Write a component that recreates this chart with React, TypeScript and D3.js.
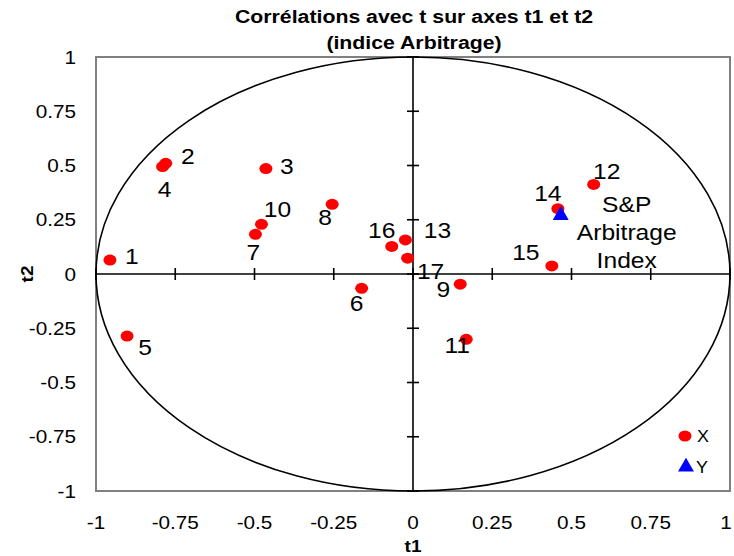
import React from 'react';
import * as d3 from 'd3';

// variables X (points 1..17) : correlations with t1 / t2
const varLabels = ['1', '2', '3', '4', '5', '6', '7', '8', '9', '10', '11', '12', '13', '14', '15', '16', '17'];
const t1Values = [-0.956, -0.78, -0.464, -0.79, -0.902, -0.162, -0.497, -0.255, 0.149, -0.478, 0.168, 0.57, -0.024, 0.457, 0.438, -0.067, -0.017];
const t2Values = [0.064, 0.51, 0.486, 0.495, -0.286, -0.066, 0.183, 0.321, -0.047, 0.229, -0.301, 0.413, 0.157, 0.301, 0.037, 0.127, 0.073];

// variable Y
const yLabelLines = ['S&P', 'Arbitrage', 'Index'];
const yT1 = [0.466];
const yT2 = [0.275];

const tickValues = [-1, -0.75, -0.5, -0.25, 0, 0.25, 0.5, 0.75, 1];
const titleLines = ['Corrélations avec t sur axes t1 et t2', '(indice Arbitrage)'];

// label offsets (px) from each point, hand placed like the original
const labelOffsets: [number, number][] = [
  [22, -4], [22, -7], [21, -2], [2, 23], [18, 11], [-5, 15], [-2, 18], [-7, 13], [-17, 5],
  [16, -15], [-9, 6], [13, -13], [32, -9], [-10, -15], [-26, -14], [-10, -16], [23, 13],
];

const W = 734;
const H = 556;
const font = 'Liberation Sans, Arial, sans-serif';
const SX = 1.12; // the original text is a bit wider than plain Arial

type TxtProps = {
  x: number; y: number; size: number; anchor?: string; bold?: boolean; rotate?: number; children: React.ReactNode;
};

// text drawn with a slight horizontal stretch
const Txt = ({ x, y, size, anchor = 'middle', bold, rotate = 0, children }: TxtProps) => (
  <text transform={`translate(${x},${y}) rotate(${rotate}) scale(${SX},1)`} textAnchor={anchor}
    dominantBaseline="central" fontFamily={font} fontWeight={bold ? 'bold' : 'normal'} fontSize={size}>
    {children}
  </text>
);

const App: React.FC = () => {
  const x = d3.scaleLinear().domain([-1, 1]).range([96, 730]);
  const y = d3.scaleLinear().domain([-1, 1]).range([491, 57]);
  const tk = 6;

  const tri = d3.symbol().type(d3.symbolTriangle).size(110)() || '';
  const fmt = (v: number) => String(v);

  return (
    <svg width={W} height={H} style={{ position: 'absolute', left: 0, top: 0, background: '#fff' }}>
      {titleLines.map((t, i) => (
        <Txt key={t} x={414} y={16 + i * 26} size={19} bold>{t}</Txt>
      ))}

      <rect x={x(-1)} y={y(1)} width={x(1) - x(-1)} height={y(-1) - y(1)} fill="#fff" stroke="#808080" strokeWidth={2} />

      {/* correlation circle */}
      <ellipse cx={x(0)} cy={y(0)} rx={x(1) - x(0)} ry={y(0) - y(1)} fill="none" stroke="#000" strokeWidth={1.6} />

      {/* axes through origin */}
      <line x1={x(-1)} x2={x(1)} y1={y(0)} y2={y(0)} stroke="#000" strokeWidth={1.6} />
      <line x1={x(0)} x2={x(0)} y1={y(-1)} y2={y(1)} stroke="#000" strokeWidth={1.6} />
      {tickValues.map(v => (
        <g key={'t' + v} stroke="#000" strokeWidth={1.6}>
          <line x1={x(v)} x2={x(v)} y1={y(0) - tk} y2={y(0) + tk} />
          <line x1={x(0) - tk} x2={x(0) + tk} y1={y(v)} y2={y(v)} />
        </g>
      ))}

      {/* tick labels (last one nudged in so it stays on the page) */}
      {tickValues.map(v => (
        <Txt key={'xl' + v} x={Math.min(x(v), W - 8)} y={522} size={18.5}>{fmt(v)}</Txt>
      ))}
      {tickValues.map(v => (
        <Txt key={'yl' + v} x={76} y={y(v)} size={18.5} anchor="end">{fmt(v)}</Txt>
      ))}

      <Txt x={x(0)} y={546} size={17} bold>t1</Txt>
      <Txt x={27} y={y(0)} size={17} bold rotate={-90}>t2</Txt>

      {/* X points */}
      {varLabels.map((lab, i) => (
        <g key={'p' + lab}>
          <ellipse cx={x(t1Values[i])} cy={y(t2Values[i])} rx={6.5} ry={5.5} fill="#ff0000" />
          <Txt x={x(t1Values[i]) + labelOffsets[i][0]} y={y(t2Values[i]) + labelOffsets[i][1]} size={22}>{lab}</Txt>
        </g>
      ))}

      {/* Y point */}
      {yT1.map((v, i) => (
        <g key={'y' + i}>
          <path d={tri} transform={`translate(${x(v)},${y(yT2[i]) + 1})`} fill="#0000ff" />
          {yLabelLines.map((l, j) => (
            <Txt key={l} x={x(v) + 66} y={y(yT2[i]) - 10 + j * 28} size={22}>{l}</Txt>
          ))}
        </g>
      ))}

      {/* legend */}
      <ellipse cx={685} cy={436} rx={6.5} ry={5.5} fill="#ff0000" />
      <Txt x={697} y={437} size={16} anchor="start">X</Txt>
      <path d={tri} transform="translate(686,467)" fill="#0000ff" />
      <Txt x={696} y={468} size={16} anchor="start">Y</Txt>
    </svg>
  );
};

export default App;
